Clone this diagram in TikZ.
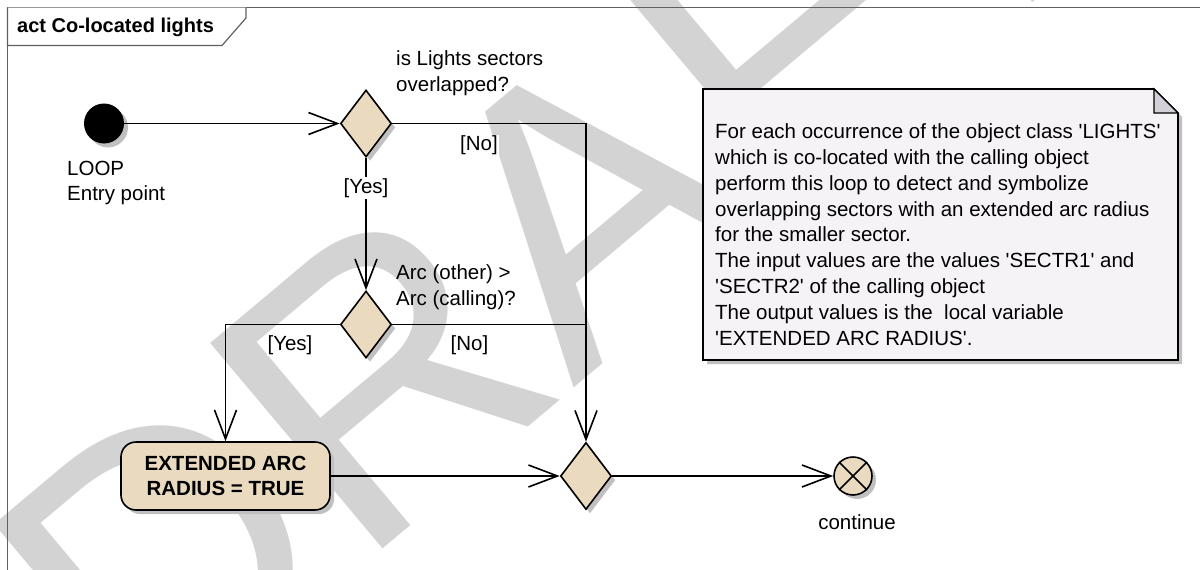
\documentclass[tikz,border=0pt]{standalone}
\usepackage{fontspec}
\setmainfont{Liberation Sans}
\usetikzlibrary{calc,shapes.geometric,arrows.meta,shadows}
\definecolor{actfill}{RGB}{233,218,192}
\definecolor{notefill}{RGB}{246,243,247}
\definecolor{foldfill}{RGB}{212,208,216}
\definecolor{shadowgray}{RGB}{192,192,192}
\definecolor{wmgray}{RGB}{211,211,211}
\definecolor{framec}{RGB}{96,96,96}
\def\lblfont{\fontsize{20.5}{25.8}\selectfont}
\newcommand{\squote}{\textquotesingle}

\begin{document}
\begin{tikzpicture}[x=1pt,y=-1pt]
\tikzstyle{flow}=[line width=1.6pt,-{Straight Barb[length=29pt,width=22pt]}]
\tikzstyle{link}=[line width=1.6pt]
\tikzstyle{shade}=[drop shadow={shadow xshift=4pt,shadow yshift=-4pt,fill=shadowgray,opacity=1}]
\tikzstyle{decision}=[diamond,draw,line width=1.6pt,fill=actfill,minimum width=51pt,minimum height=67pt,inner sep=0pt,shade]
\tikzstyle{action}=[rectangle,rounded corners=15pt,draw,line width=1.6pt,fill=actfill,minimum width=209pt,minimum height=68pt,align=center,font=\bfseries\lblfont,shade]
\tikzstyle{guard}=[fill=white,inner sep=1pt,font=\lblfont]
\tikzstyle{txt}=[inner sep=0pt,align=left,font=\lblfont]

\useasboundingbox (0,0) rectangle (1200,570);

\node (wm) [rotate=40,text=wmgray,inner sep=0pt,font=\fontsize{390}{390}\selectfont] at (554,229.5) {DRAFT};

% frame and title tab
\draw [framec,line width=1.2pt] (7.5,580) -- (7.5,7.5) -- (1210,7.5);
\draw [framec,line width=1.2pt,fill=white] (7.5,7.5) -- (7.5,45.5) -- (222,45.5) -- (246,18) -- (246,7.5);
\node (title) [anchor=west,inner sep=0pt,font=\bfseries\fontsize{20}{24}\selectfont] at (17,27) {act Co-located lights};

% note
\coordinate (nNW) at (703,89);
\coordinate (nSE) at (1178,360);
\coordinate (nF1) at (1154,89);
\coordinate (nF2) at (1178,113);
\filldraw [line width=1.6pt,fill=notefill,shade] (nNW) -- (nF1) -- (nF2) -- (nSE) -- (nNW |- nSE) -- cycle;
\filldraw [line width=1.2pt,fill=foldfill] (nF1) -- (nF1 |- nF2) -- (nF2) -- cycle;
\node (note) [txt,anchor=west] at (715,234.5) {For each occurrence of the object class \squote LIGHTS\squote\\
which is co-located with the calling object\\
perform this loop to detect and symbolize\\
overlapping sectors with an extended arc radius\\
for the smaller sector.\\
The input values are the values \squote SECTR1\squote\ and\\
\squote SECTR2\squote\ of the calling object\\
The output values is the \ local variable\\
\squote EXTENDED ARC RADIUS\squote.};

\node (start) [circle,fill=black,minimum size=40pt,inner sep=0pt,shade] at (104,123.5) {};
\node (d1) [decision] at (366,123.5) {};
\node (d2) [decision] at (366,324.5) {};
\node (d3) [decision] at (586,476) {};
\node (act) [action] at (225.5,476) {EXTENDED ARC\\RADIUS = TRUE};
\node (fin) [circle,draw,line width=1.6pt,fill=actfill,minimum size=38pt,inner sep=0pt,shade] at (853,476) {};
\draw [link] (fin.north west) -- (fin.south east);
\draw [link] (fin.north east) -- (fin.south west);

\draw [flow] (start) -- (d1.west);
\draw [flow] (d1.south) -- (d2.north);
\draw [flow] (d1.east) -| (d3.north);
\draw [link] (d2.east) -- (d2.east -| d3.north);
\draw [flow] (d2.west) -| (act.north);
\draw [flow] (act.east) -- (d3.west);
\draw [flow] (d3.east) -- (fin.west);

\node (q1) [txt,anchor=west] at (396,73) {is Lights sectors\\overlapped?};
\node (q2) [txt,anchor=west] at (396,287) {Arc (other) >\\Arc (calling)?};
\node (entry) [txt,anchor=west] at (67,183) {LOOP\\Entry point};
\node (cont) [txt] at (857,522) {continue};

\node (no1) [guard] at (479,145.5) {[No]};
\node (yes1) [guard] at (366,188) {[Yes]};
\node (yes2) [guard] at (290,345.5) {[Yes]};
\node (no2) [guard] at (469.5,345) {[No]};

\end{tikzpicture}
\end{document}
